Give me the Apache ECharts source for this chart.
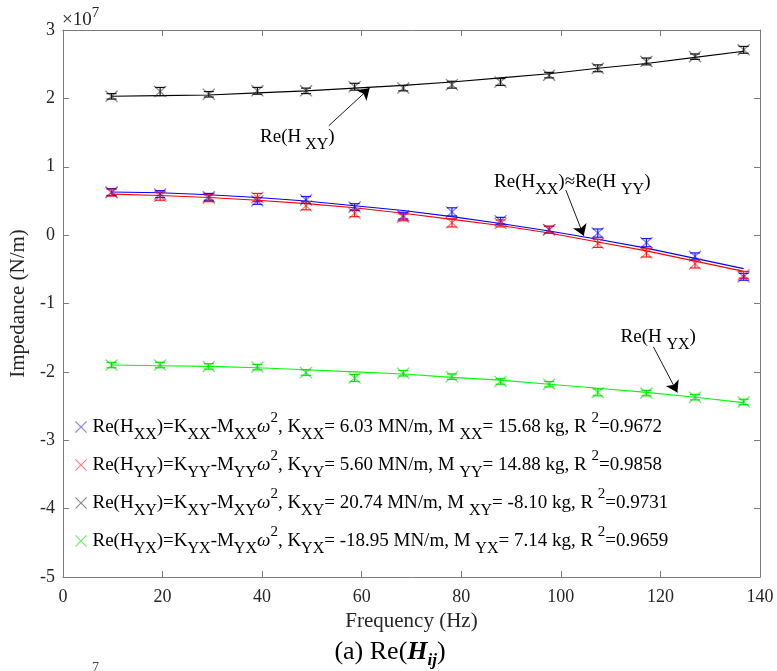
<!DOCTYPE html>
<html>
<head>
<meta charset="utf-8">
<script src="https://cdn.jsdelivr.net/npm/echarts@6/dist/echarts.min.js"></script>
<style>
  html, body { margin: 0; padding: 0; background: #fff; }
  #c { width: 777px; height: 671px; }
</style>
</head>
<body>
<div id="c"></div>
<script>
// Real part of the bearing impedance vs. excitation frequency (values in 10^7 N/m)
const FONT = '"Liberation Serif", "Times New Roman", serif';

const freqs = [9.77, 19.53, 29.30, 39.06, 48.83, 58.59, 68.36, 78.13, 87.89, 97.66, 107.42, 117.19, 126.95, 136.72];

// measured points
const hXX = [0.63, 0.60, 0.56, 0.50, 0.515, 0.41, 0.285, 0.34, 0.21, 0.08, 0.03, -0.11, -0.31, -0.61];
const hYY = [0.62, 0.57, 0.54, 0.55, 0.43, 0.32, 0.26, 0.18, 0.17, 0.08, -0.12, -0.26, -0.42, -0.58];
const hXY = [2.03, 2.10, 2.06, 2.11, 2.11, 2.17, 2.15, 2.20, 2.24, 2.34, 2.44, 2.54, 2.61, 2.71];
const hYX = [-1.90, -1.90, -1.92, -1.93, -2.01, -2.09, -2.02, -2.07, -2.14, -2.18, -2.30, -2.31, -2.37, -2.44];

// half-width of the error bars
const eXX = [0.05, 0.05, 0.05, 0.05, 0.05, 0.05, 0.05, 0.06, 0.05, 0.05, 0.06, 0.06, 0.05, 0.05];
const eYY = [0.05, 0.06, 0.05, 0.06, 0.06, 0.05, 0.05, 0.06, 0.05, 0.05, 0.06, 0.06, 0.06, 0.05];
const eXY = [0.04, 0.06, 0.04, 0.05, 0.04, 0.05, 0.04, 0.05, 0.05, 0.04, 0.05, 0.05, 0.04, 0.05];
const eYX = [0.04, 0.04, 0.04, 0.04, 0.04, 0.05, 0.04, 0.04, 0.04, 0.04, 0.05, 0.04, 0.04, 0.04];

// fitted curves K - M*omega^2 sampled at the same frequencies
const fitXX = [0.63, 0.62, 0.59, 0.55, 0.50, 0.43, 0.36, 0.27, 0.17, 0.06, -0.06, -0.19, -0.34, -0.49];
const fitYY = [0.60, 0.58, 0.55, 0.51, 0.46, 0.40, 0.32, 0.23, 0.14, 0.03, -0.10, -0.23, -0.38, -0.53];
const fitXY = [2.03, 2.04, 2.05, 2.08, 2.11, 2.15, 2.19, 2.24, 2.30, 2.36, 2.44, 2.51, 2.60, 2.69];
const fitYX = [-1.90, -1.91, -1.92, -1.94, -1.97, -2.00, -2.03, -2.08, -2.12, -2.18, -2.24, -2.30, -2.37, -2.45];

const legendText = {
  XX: 'Re(H{b|XX})=K{b|XX}-M{b|XX}{w|ω}{p|2}, K{b|XX}= 6.03 MN/m, M {b|XX}= 15.68 kg, R {p|2}=0.9672',
  YY: 'Re(H{b|YY})=K{b|YY}-M{b|YY}{w|ω}{p|2}, K{b|YY}= 5.60 MN/m, M {b|YY}= 14.88 kg, R {p|2}=0.9858',
  XY: 'Re(H{b|XY})=K{b|XY}-M{b|XY}{w|ω}{p|2}, K{b|XY}= 20.74 MN/m, M {b|XY}= -8.10 kg, R {p|2}=0.9731',
  YX: 'Re(H{b|YX})=K{b|YX}-M{b|YX}{w|ω}{p|2}, K{b|YX}= -18.95 MN/m, M {b|YX}= 7.14 kg, R {p|2}=0.9659'
};

const xTicks = { min: 0, max: 140, interval: 20 };
const yTicks = { min: -5, max: 3, interval: 1 };

const groups = [
  { key: 'XX', pts: hXX, err: eXX, fit: fitXX, line: '#0000ff', mark: 'rgba(0,0,255,0.5)', bar: '#1a1aff' },
  { key: 'YY', pts: hYY, err: eYY, fit: fitYY, line: '#ff0000', mark: 'rgba(255,0,0,0.5)', bar: '#ff1a1a' },
  { key: 'XY', pts: hXY, err: eXY, fit: fitXY, line: '#000000', mark: 'rgba(40,40,40,0.55)', bar: '#111111' },
  { key: 'YX', pts: hYX, err: eYX, fit: fitYX, line: '#00ff00', mark: 'rgba(0,230,0,0.6)', bar: '#00e600' }
];

// thin filled "x" marker
const CROSS = 'path://M0,0.7L0.7,0L5,4.3L9.3,0L10,0.7L5.7,5L10,9.3L9.3,10L5,5.7L0.7,10L0,9.3L4.3,5Z';

function errorBar(color) {
  return function (params, api) {
    const f = api.value(0), v = api.value(1), e = api.value(2);
    const hi = api.coord([f, v + e]);
    const lo = api.coord([f, v - e]);
    const w = 5;
    const style = { stroke: color, lineWidth: 1.2, fill: null };
    return {
      type: 'group',
      children: [
        { type: 'line', shape: { x1: hi[0], y1: hi[1], x2: lo[0], y2: lo[1] }, style: style },
        { type: 'line', shape: { x1: hi[0] - w, y1: hi[1], x2: hi[0] + w, y2: hi[1] }, style: style },
        { type: 'line', shape: { x1: lo[0] - w, y1: lo[1], x2: lo[0] + w, y2: lo[1] }, style: style }
      ]
    };
  };
}

const series = [];
// fitted lines first (red under blue)
['YY', 'XX', 'XY', 'YX'].forEach(function (k) {
  const g = groups.find(function (x) { return x.key === k; });
  series.push({
    type: 'line', name: 'fit' + k, silent: true, showSymbol: false, z: 2,
    data: freqs.map(function (f, i) { return [f, g.fit[i]]; }),
    lineStyle: { color: g.line, width: 1.1 },
    itemStyle: { color: g.line }
  });
});
groups.forEach(function (g) {
  series.push({
    type: 'custom', name: 'err' + g.key, silent: true, z: 3,
    renderItem: errorBar(g.bar),
    encode: { x: 0, y: 1 },
    data: freqs.map(function (f, i) { return [f, g.pts[i], g.err[i]]; })
  });
});
groups.forEach(function (g) {
  series.push({
    type: 'scatter', name: g.key, silent: true, z: 4,
    symbol: CROSS, symbolSize: [13, 12],
    itemStyle: { color: g.mark, opacity: 1 },
    data: freqs.map(function (f, i) { return [f, g.pts[i]]; })
  });
});

// annotation arrows, in data coordinates [tail, head]
const arrows = [
  [[53.4, 1.60], [61.6, 2.15]],
  [[101.0, 0.66], [104.6, -0.01]],
  [[118.6, -1.635], [123.4, -2.30]]
];
series.push({
  type: 'line', name: 'annot', silent: true, data: [], z: 5,
  markLine: {
    silent: true, animation: false,
    symbol: ['none', 'arrow'], symbolSize: 11,
    label: { show: false },
    lineStyle: { color: '#000', width: 0.9, type: 'solid' },
    emphasis: { disabled: true },
    data: arrows.map(function (a) { return [{ coord: a[0] }, { coord: a[1] }]; })
  }
});

const axisCol = '#7a7a7a';
const labelCol = '#262626';

const richBase = {
  b: { fontFamily: FONT, fontSize: 16, lineHeight: 16, verticalAlign: 'bottom', color: '#000' },
  p: { fontFamily: FONT, fontSize: 15, lineHeight: 6, verticalAlign: 'top', color: '#000' },
  w: { fontFamily: FONT, fontSize: 19, fontStyle: 'italic', lineHeight: 32, color: '#000' }
};

const frameLine = { onZero: false, lineStyle: { color: axisCol, width: 1 } };
const frameTick = { inside: true, length: 6, lineStyle: { color: axisCol } };

const option = {
  animation: false,
  backgroundColor: '#fff',
  grid: { left: 60, right: 17, top: 30, bottom: 94 },
  xAxis: [
    {
      type: 'value', min: xTicks.min, max: xTicks.max, interval: xTicks.interval,
      name: 'Frequency (Hz)', nameLocation: 'middle', nameGap: 33,
      nameTextStyle: { fontFamily: FONT, fontSize: 21, color: labelCol },
      axisLine: frameLine, axisTick: frameTick,
      axisLabel: { fontFamily: FONT, fontSize: 18, color: labelCol, margin: 11 },
      splitLine: { show: false }
    },
    {
      type: 'value', position: 'top', min: xTicks.min, max: xTicks.max, interval: xTicks.interval,
      axisLine: frameLine, axisTick: frameTick,
      axisLabel: { show: false }, splitLine: { show: false }
    }
  ],
  yAxis: [
    {
      type: 'value', min: yTicks.min, max: yTicks.max, interval: yTicks.interval,
      name: 'Impedance (N/m)', nameLocation: 'middle', nameGap: 27,
      nameTextStyle: { fontFamily: FONT, fontSize: 21, color: labelCol },
      axisLine: frameLine, axisTick: frameTick,
      axisLabel: { fontFamily: FONT, fontSize: 18, color: labelCol, margin: 8 },
      splitLine: { show: false }
    },
    {
      type: 'value', position: 'right', min: yTicks.min, max: yTicks.max, interval: yTicks.interval,
      axisLine: frameLine, axisTick: frameTick,
      axisLabel: { show: false }, splitLine: { show: false }
    }
  ],
  legend: {
    orient: 'vertical', left: 70, top: 406, itemGap: 6,
    itemWidth: 13, itemHeight: 12, selectedMode: false,
    data: groups.map(function (g) {
      return { name: g.key, icon: CROSS, itemStyle: { color: g.mark } };
    }),
    formatter: function (name) { return legendText[name]; },
    textStyle: {
      fontFamily: FONT, fontSize: 19, lineHeight: 32, color: '#000',
      rich: richBase
    }
  },
  series: series
};

const chart = echarts.init(document.getElementById('c'), null, { renderer: 'canvas' });
chart.setOption(option);

// text labels placed at data positions
const notes = [
  { at: [39.6, 1.436], text: 'Re(H{b| XY})' },
  { at: [86.6, 0.778], text: 'Re(H{b|XX})≈Re(H {b|YY})' },
  { at: [112.0, -1.488], text: 'Re(H {b|YX})' }
];
const graphics = notes.map(function (n) {
  const p = chart.convertToPixel({ xAxisIndex: 0, yAxisIndex: 0 }, n.at);
  return {
    type: 'text', x: p[0], y: p[1], z: 10, silent: true,
    style: {
      text: n.text, fontFamily: FONT, fontSize: 19, lineHeight: 32, fill: '#000',
      verticalAlign: 'middle', align: 'left', rich: richBase
    }
  };
});
graphics.push({
  type: 'text', left: 62, top: 6, silent: true,
  style: {
    text: '×10{p|7}', fontFamily: FONT, fontSize: 19, lineHeight: 28, fill: labelCol,
    rich: { p: { fontFamily: FONT, fontSize: 15, lineHeight: 6, verticalAlign: 'top', fill: labelCol } }
  }
});
graphics.push({
  type: 'text', x: 390, y: 652, silent: true,
  style: {
    text: '(a) Re({h|H}{s|ij})', fontFamily: FONT, fontSize: 26, lineHeight: 34, fill: '#000',
    align: 'center', verticalAlign: 'middle',
    rich: {
      h: { fontFamily: FONT, fontSize: 26, fontWeight: 'bold', fontStyle: 'italic', lineHeight: 34 },
      s: { fontFamily: FONT, fontSize: 17, fontWeight: 'bold', fontStyle: 'italic', lineHeight: 18, verticalAlign: 'bottom' }
    }
  }
});
graphics.push({
  type: 'text', left: 92, top: 661, silent: true,
  style: { text: '7', fontFamily: FONT, fontSize: 14, fill: '#444' }
});
chart.setOption({ graphic: graphics });
</script>
</body>
</html>
